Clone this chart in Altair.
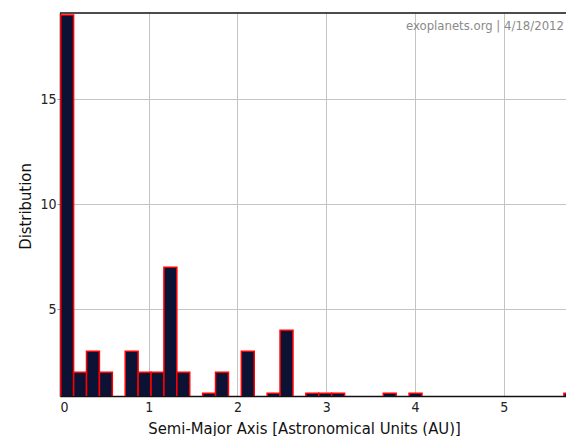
import altair as alt
import pandas as pd

# Histogram data
bin_start = 0.008
bin_width = 0.1454
counts = [19, 2, 3, 2, 0, 3, 2, 2, 7, 2, 0, 1, 2, 0, 3, 0, 1, 4, 0, 1,
          1, 1, 0, 0, 0, 1, 0, 1, 0, 0, 0, 0, 0, 0, 0, 0, 0, 0, 0, 1]
x_ticks = [0, 1, 2, 3, 4, 5]
y_ticks = [5, 10, 15]
x_title = "Semi-Major Axis [Astronomical Units (AU)]"
y_title = "Distribution"
credit = "exoplanets.org | 4/18/2012"

df = pd.DataFrame({"bin": list(range(len(counts))), "count": counts})
df["x0"] = bin_start + df["bin"] * bin_width
df["x1"] = df["x0"] + bin_width
df["base"] = 0
df = df[df["count"] > 0]

FONT = "DejaVu Sans Condensed"
W, H = 506, 383

bars = alt.Chart(df).mark_rect(
    fill="#0b1233", stroke="#ff0000", strokeWidth=1.5, clip=True
).encode(
    x=alt.X("x0:Q",
            scale=alt.Scale(domain=[0, 5.702], nice=False, zero=False),
            axis=alt.Axis(values=x_ticks, title=x_title, format="d",
                          grid=True, gridColor="#c4c4c4", gridWidth=1,
                          domainColor="#111", domainWidth=1.5,
                          tickSize=0, labelPadding=4, labelFontSize=14,
                          labelColor="#222", labelFont=FONT,
                          titleFont=FONT, titleFontSize=16.5, titleFontWeight="normal",
                          titleColor="#111", titleX=244, titleY=37,
                          titleBaseline="alphabetic")),
    x2="x1",
    y=alt.Y("count:Q",
            scale=alt.Scale(domain=[0.87, 19.1], nice=False, zero=False),
            axis=alt.Axis(values=y_ticks, title=y_title,
                          grid=True, gridColor="#c4c4c4", gridWidth=1,
                          domainColor="#111", domainWidth=1.5,
                          tickSize=3, tickColor="#999", labelPadding=1,
                          labelFontSize=14, labelColor="#222", labelFont=FONT,
                          titleFont=FONT, titleFontSize=16.5, titleFontWeight="normal",
                          titleColor="#111", titleX=-30, titleY=193,
                          titleAngle=270, titleAlign="center",
                          titleBaseline="alphabetic")),
    y2="base",
)

top_line = alt.Chart(pd.DataFrame({"t": [0]})).mark_rule(
    color="#111", strokeWidth=1.5
).encode(x=alt.value(0), x2=alt.value(W), y=alt.value(0))

label = alt.Chart(pd.DataFrame({"t": [credit]})).mark_text(
    align="right", baseline="middle", fontSize=13, color="#8a8a8a", font=FONT
).encode(x=alt.value(504), y=alt.value(13), text="t:N")

chart = alt.layer(bars, top_line, label).properties(
    width=W, height=H,
    autosize=alt.AutoSizeParams(type="none"),
    padding={"left": 52, "top": 5, "right": 0, "bottom": 40},
).configure_view(strokeWidth=0)

chart.save("out.html", embed_options={"renderer": "svg", "actions": False})
